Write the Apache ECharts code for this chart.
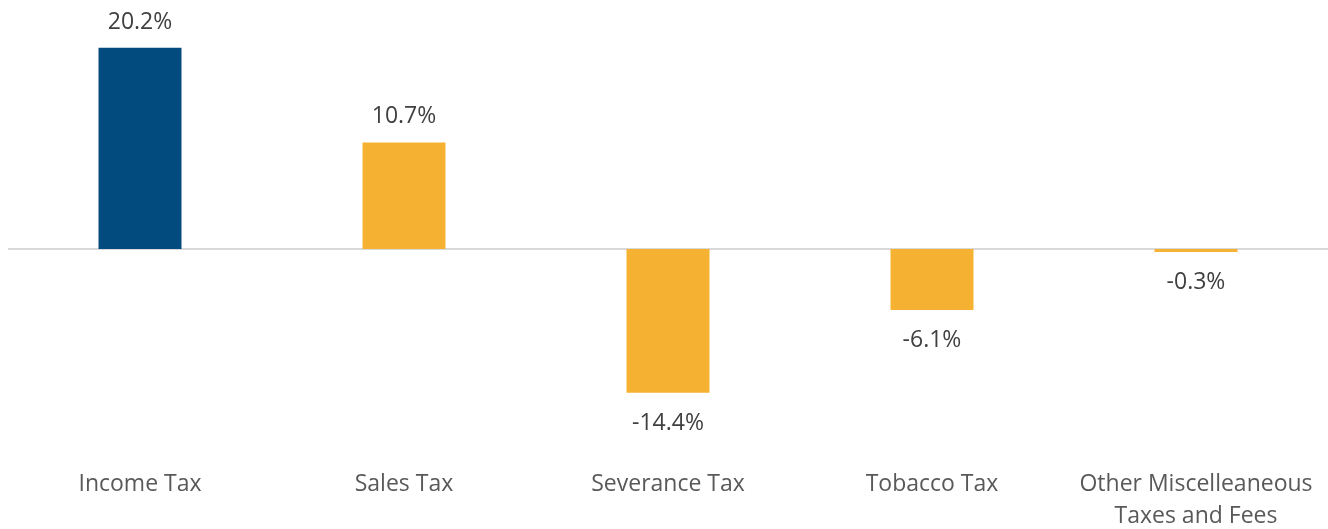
<!DOCTYPE html>
<html>
<head>
<meta charset="utf-8">
<script src="https://cdn.jsdelivr.net/npm/echarts@6/dist/echarts.min.js"></script>
<style>
  html, body { margin: 0; padding: 0; background: #fff; }
  #chart { width: 1328px; height: 529px; }
</style>
</head>
<body>
<div id="chart"></div>
<script>
const categories = ["Income Tax", "Sales Tax", "Severance Tax", "Tobacco Tax", "Other Miscelleaneous\nTaxes and Fees"];
const changes = [20.2, 10.7, -14.4, -6.1, -0.3];
const barColors = ["#024b7f", "#f5b131", "#f5b131", "#f5b131", "#f5b131"];

const chart = echarts.init(document.getElementById("chart"));

const data = changes.map(function (v, i) {
    return {
        value: v,
        itemStyle: { color: barColors[i] },
        label: { position: v < 0 ? "bottom" : "top", distance: v < 0 ? 19 : 14 }
    };
});

const option = {
    animation: false,
    grid: { left: 8, right: 0, top: 47.7, bottom: 69, containLabel: false, outerBoundsMode: "none" },
    xAxis: {
        type: "category",
        data: categories,
        axisLine: { show: false },
        axisTick: { show: false },
        axisLabel: {
            color: "#595959",
            fontFamily: "Open Sans",
            fontSize: 23,
            lineHeight: 32,
            margin: 8,
            interval: 0
        }
    },
    yAxis: {
        type: "value",
        min: -21.15,
        max: 20.2,
        show: false,
        splitLine: { show: false }
    },
    series: [{
        type: "bar",
        data: data,
        barWidth: 83,
        z: 3,
        label: {
            show: true,
            color: "#404040",
            fontFamily: "Open Sans",
            fontSize: 23,
            formatter: function (p) { return p.value.toFixed(1) + "%"; }
        },
        markLine: {
            silent: true,
            symbol: "none",
            z: 2,
            label: { show: false },
            lineStyle: { color: "#d9d9d9", width: 2, type: "solid" },
            data: [{ yAxis: 0 }]
        }
    }]
};

chart.setOption(option);
</script>
</body>
</html>
